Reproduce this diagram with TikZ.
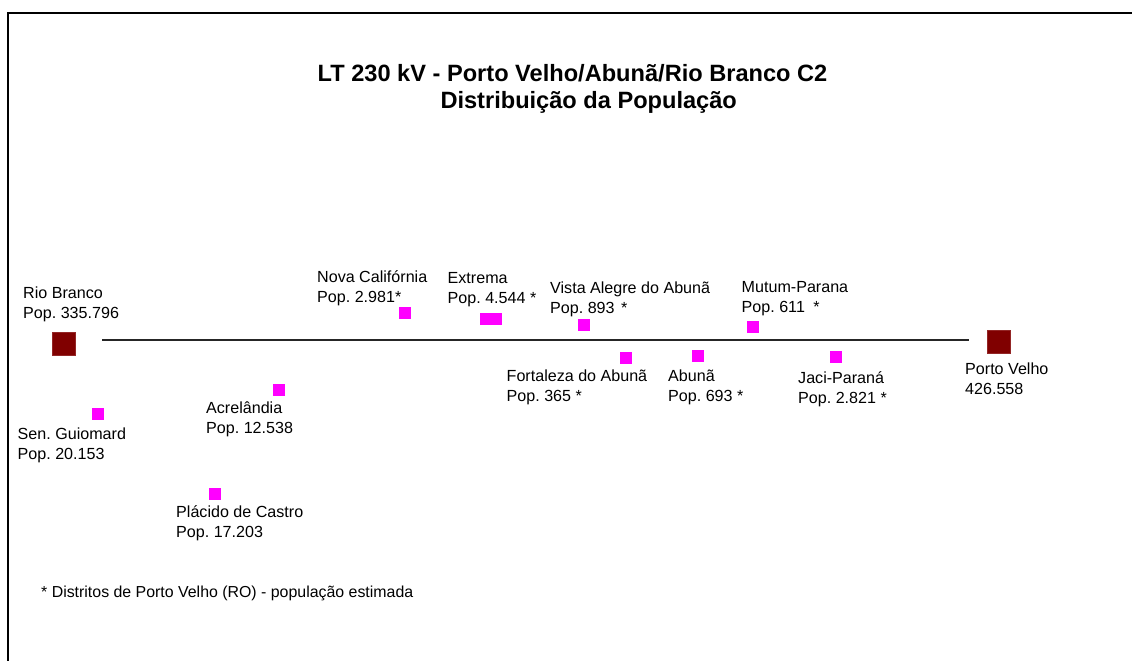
\documentclass[tikz,border=0pt]{standalone}
\usepackage{fontspec}
\setmainfont{Liberation Sans}
\frenchspacing
\definecolor{pvred}{RGB}{128,0,0}
\definecolor{mag}{RGB}{255,0,255}
\begin{document}
\begin{tikzpicture}[x=1pt,y=-1pt,
  big/.style={fill=pvred, draw=pvred!85!white, line width=0.6pt, minimum width=23.4pt, minimum height=23pt, inner sep=0pt, outer sep=0pt},
  small/.style={fill=mag, draw=none, minimum width=12pt, minimum height=11.8pt, inner sep=0pt, outer sep=0pt},
  lbl/.style={anchor=base west, align=left, inner sep=0pt, font=\fontsize{16.1}{20}\selectfont},
  ttl/.style={anchor=base, inner sep=0pt, font=\fontsize{23.6}{27}\selectfont\bfseries},
  note/.style={anchor=base west, inner sep=0pt, font=\fontsize{15.9}{20}\selectfont},
  frame/.style={line width=2pt, draw=black},
  trunk/.style={line width=1.3pt, draw=black!85},
]
\useasboundingbox (0,0) rectangle (1132,661);
\fill[white] (0,0) rectangle (1132,661);
% frame (only top and left edges visible)
\coordinate (fTR) at (1140,13);
\coordinate (fTL) at (8,13);
\coordinate (fBL) at (8,670);
\draw[frame] (fTR) -- (fTL) -- (fBL);

% title
\node[ttl] (t1) at (572.5,81.5) {LT 230 kV - Porto Velho/Abunã/Rio Branco C2};
\node[ttl] (t2) at (588.7,108) {Distribuição da População};

% trunk line
\coordinate (lineA) at (102,340);
\coordinate (lineB) at (969,340);
\draw[trunk] (lineA) -- (lineB);

% capitals
\node[big] (rb) at (64,344) {};
\node[big] (pv) at (999,341.5) {};

% localities
\node[small] (sg)  at (98,413.75) {};
\node[small] (acr) at (278.5,389.75) {};
\node[small] (pc)  at (214.75,494.25) {};
\node[small] (nc)  at (405.25,312.75) {};
\node[small, minimum width=22pt] (ext) at (490.5,318.75) {};
\node[small] (va)  at (584.25,324.75) {};
\node[small] (fa)  at (625.5,357.75) {};
\node[small] (ab)  at (698,355.75) {};
\node[small] (mp)  at (752.75,326.75) {};
\node[small] (jp)  at (836,357) {};

% labels (anchor = baseline of the second line)
\node[lbl] (rbL)  at (23,318.5)  {Rio Branco\\Pop. 335.796};
\node[lbl] (pvL)  at (965,394)   {Porto Velho\\426.558};
\node[lbl] (sgL)  at (17.5,459.5) {Sen. Guiomard\\Pop. 20.153};
\node[lbl] (acrL) at (206,433)   {Acrelândia\\Pop. 12.538};
\node[lbl] (pcL)  at (176,537.5) {Plácido de Castro\\Pop. 17.203};
\node[lbl] (ncL)  at (317,302)   {Nova Califórnia\\Pop. 2.981*};
\node[lbl] (extL) at (447.5,303.5) {Extrema\\Pop. 4.544 *};
\node[lbl] (vaL)  at (550,313.5) {Vista Alegre do Abunã\\Pop. 893\hspace{2pt} *};
\node[lbl] (faL)  at (506.5,401) {Fortaleza do Abunã\\Pop. 365 *};
\node[lbl] (abL)  at (668,401)   {Abunã\\Pop. 693 *};
\node[lbl] (mpL)  at (741.5,312) {Mutum-Parana\\Pop. 611\hspace{4pt} *};
\node[lbl] (jpL)  at (798,403.5) {Jaci-Paraná\\Pop. 2.821 *};

% footnote
\node[note] (fn) at (41,597.5) {* Distritos de Porto Velho (RO) - população estimada};
\end{tikzpicture}
\end{document}
